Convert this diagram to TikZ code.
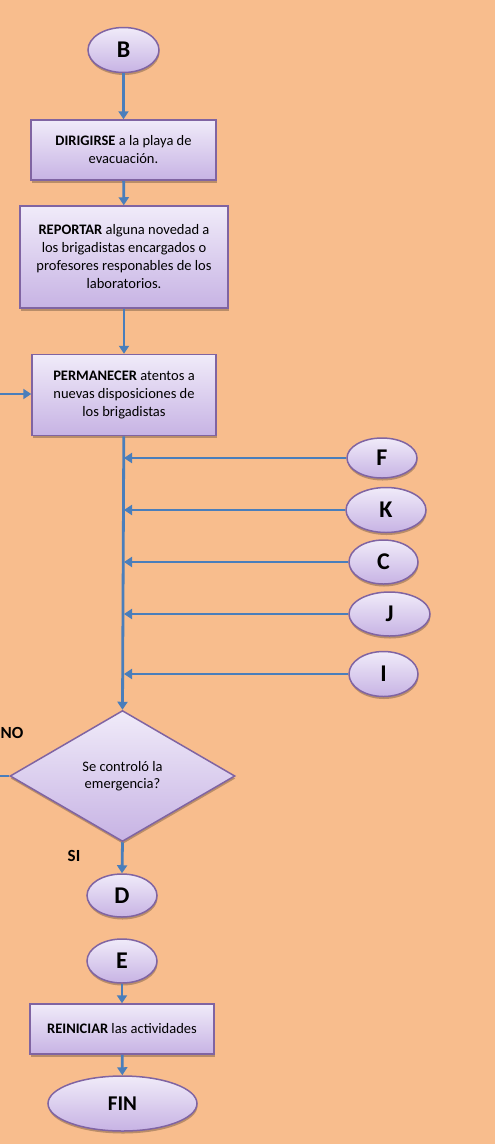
\documentclass[tikz,border=0pt]{standalone}
\usepackage{fontspec}
\setmainfont{Carlito}
\usetikzlibrary{shapes.geometric,arrows.meta,shadows}
\definecolor{bg}{HTML}{F8BD8D}
\definecolor{brd}{HTML}{8064A2}
\definecolor{topc}{HTML}{F0EBF9}
\definecolor{botc}{HTML}{C7B3E4}
\definecolor{arr}{HTML}{4A7EBB}
\tikzset{
  shadowed/.style={drop shadow={shadow xshift=0.5pt,shadow yshift=-2.5pt,opacity=0.25,fill=black}},
  pbox/.style={draw=brd,line width=1.5pt,top color=topc,bottom color=botc,shadowed,inner sep=0pt,align=center,font=\fontsize{14.5}{18}\selectfont},
  conn/.style={draw=brd,line width=1.5pt,top color=topc,bottom color=botc,shadowed,ellipse,inner sep=0pt,font=\fontsize{24}{26}\selectfont\bfseries},
  decis/.style={draw=brd,line width=1.5pt,top color=topc,bottom color=botc,shadowed,diamond,inner sep=0pt,align=center,font=\fontsize{14.5}{17}\selectfont},
  flow/.style={draw=arr,line width=2.8pt,-{Triangle[width=10pt,length=8pt]}},
  plain/.style={draw=arr,line width=2.8pt},
  lbl/.style={font=\fontsize{17}{19}\selectfont\bfseries,inner sep=0pt}
}
\begin{document}
\begin{tikzpicture}[x=1pt,y=-1pt]
\useasboundingbox (0,0) rectangle (495,1144);
\fill[bg] (0,0) rectangle (495,1144);

\node[conn,minimum width=71pt,minimum height=45pt] (B) at (123.5,50) {B};
\node[pbox,minimum width=185pt,minimum height=60pt] (dir) at (123.5,150) {\textbf{DIRIGIRSE} a la playa de\\evacuación.};
\node[pbox,minimum width=208pt,minimum height=102pt] (rep) at (124,257) {\textbf{REPORTAR} alguna novedad a\\los brigadistas encargados o\\profesores responables de los\\laboratorios.};
\node[pbox,minimum width=184pt,minimum height=81pt] (perm) at (124,395) {\textbf{PERMANECER} atentos a\\nuevas disposiciones de\\los brigadistas};

\node[conn,minimum width=70pt,minimum height=40pt] (F) at (382,458) {F};
\node[conn,minimum width=80pt,minimum height=45pt] (K) at (386,510) {K};
\node[conn,minimum width=69pt,minimum height=44pt] (C) at (383.5,562) {C};
\node[conn,minimum width=81pt,minimum height=44pt] (J) at (389.5,614) {J};
\node[conn,minimum width=69pt,minimum height=45pt] (I) at (383.5,674) {I};

\node[decis,minimum width=225pt,minimum height=131pt] (dec) at (122.5,776) {Se controló la\\emergencia?};

\node[conn,minimum width=70pt,minimum height=43pt] (D) at (122,895.5) {D};
\node[conn,minimum width=70pt,minimum height=44pt] (E) at (122,961) {E};
\node[pbox,minimum width=184pt,minimum height=50pt] (rei) at (122,1029) {\textbf{REINICIAR} las actividades};
\node[conn,minimum width=149pt,minimum height=55pt,font=\fontsize{21}{23}\selectfont\bfseries] (fin) at (122.5,1103.5) {FIN};

\node[lbl,anchor=west] (no) at (0.5,733) {NO};
\node[lbl] (si) at (74,856) {SI};

\coordinate (inL) at (0,394);
\coordinate (noL) at (0,776);

\draw[flow] (B) -- (dir);
\draw[flow] (dir) -- (rep);
\draw[flow] (rep) -- (perm);
\draw[flow] (inL) -- (perm.west |- inL);
\draw[flow] (perm) -- (dec.north);
\foreach \n in {F,K,C,J,I}{
  \draw[flow] (\n.west) -- (\n.west -| perm.south);
}
\draw[plain] (dec.west) -- (noL);
\draw[flow] (dec.south) -- (D.north);
\draw[flow] (E) -- (rei);
\draw[flow] (rei) -- (fin);
\end{tikzpicture}
\end{document}
